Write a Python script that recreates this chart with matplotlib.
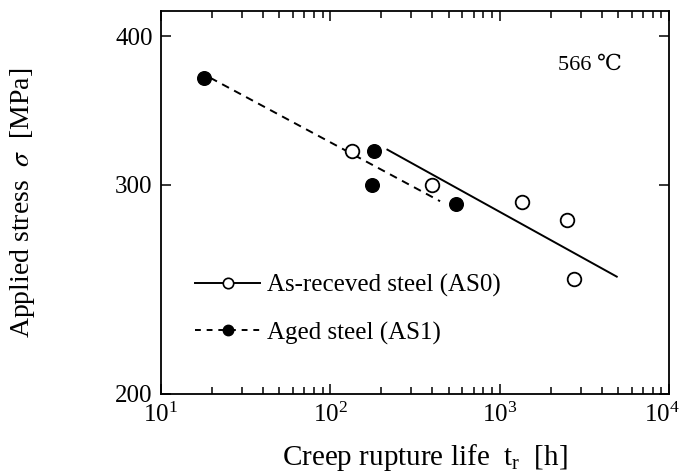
"""
566 ℃ 下 AS0 / AS1 鋼的潛變破斷壽命與外加應力 (log-log)。
"""

import matplotlib
matplotlib.use("Agg")
import matplotlib.pyplot as plt
from matplotlib.ticker import (LogLocator, NullLocator, FixedLocator, FixedFormatter,
                               LogFormatterSciNotation)
from matplotlib.transforms import ScaledTranslation

plt.rcParams['font.family'] = ['Liberation Serif', 'DejaVu Serif']
plt.rcParams['mathtext.fontset'] = 'stix'

# 原料鋼 AS0 (空心圓)
as0_life = [135, 400, 1350, 2500, 2750]
as0_stress = [320, 300, 290, 280, 250]
# 時效鋼 AS1 (實心圓)
as1_life = [18, 180, 175, 550]
as1_stress = [369, 320, 300, 289]

# 迴歸線的兩端點
as0_fit_life = [217, 4900]
as0_fit_stress = [321, 251]
as1_fit_life = [19.5, 444]
as1_fit_stress = [369, 290.5]

x_ticks = [10, 100, 1000, 10000]
y_ticks = [200, 300, 400]
y_tick_labels = ['200', '300', '400']


def main():
    fig = plt.figure(figsize=(6.85, 4.74), dpi=100)
    ax = fig.add_axes([0.235, 0.169, 0.742, 0.808])

    ax.plot(as0_fit_life, as0_fit_stress, color='black', lw=1.4)
    ax.plot(as1_fit_life, as1_fit_stress, color='black', lw=1.4, ls=(0, (4, 3)))
    ax.plot(as0_life, as0_stress, 'o', ms=9.8, mfc='white', mec='black', mew=1.3)
    ax.plot(as1_life, as1_stress, 'o', ms=9.8, mfc='black', mec='black')

    # 圖例用的代理線
    ax.plot([], [], color='black', lw=1.4, marker='o', ms=7.5, mfc='white', mew=1.2,
            label='As-receved steel (AS0)')
    ax.plot([], [], color='black', lw=1.4, ls=(0, (3, 3)), marker='o', ms=7.5, mfc='black',
            label='Aged steel (AS1)')

    ax.set_xscale('log')
    ax.set_yscale('log')
    ax.set_xlim(10, 1e4)
    ax.set_ylim(200, 420)

    ax.xaxis.set_major_locator(FixedLocator(x_ticks))
    ax.xaxis.set_major_formatter(LogFormatterSciNotation())
    ax.xaxis.set_minor_locator(LogLocator(base=10, subs=range(2, 10)))
    ax.yaxis.set_major_locator(FixedLocator(y_ticks))
    ax.yaxis.set_major_formatter(FixedFormatter(y_tick_labels))
    ax.yaxis.set_minor_locator(NullLocator())

    ax.tick_params(which='both', direction='in', top=True, right=True,
                   labelsize=18, width=1.1, pad=6)
    ax.tick_params(which='major', length=7)
    ax.tick_params(which='minor', length=5)
    for spine in ax.spines.values():
        spine.set_linewidth(1.3)

    ax.set_xlabel(r'Creep rupture life  $\mathregular{t_r}$  [h]', fontsize=21)
    ax.set_ylabel(r'Applied stress  $\sigma$  [MPa]', fontsize=20)
    ax.xaxis.set_label_coords(0.52, -0.125)
    ax.yaxis.set_label_coords(-0.244, 0.5)

    ax.text(0.781, 0.859, '566 ℃', transform=ax.transAxes, fontsize=16, va='center')

    ax.legend(loc='upper left', bbox_to_anchor=(0.067, 0.312), frameon=False,
              fontsize=18, handlelength=2.6, handletextpad=0.28, labelspacing=0.96,
              borderpad=0, borderaxespad=0)

    # 10^4 標籤稍微往左, 免得被右邊切掉
    fig.canvas.draw()
    last = ax.xaxis.get_major_ticks()[3].label1
    last.set_transform(last.get_transform() + ScaledTranslation(-5 / 72, 0, fig.dpi_scale_trans))

    fig.savefig('out.png', dpi=100, facecolor='white')


if __name__ == "__main__":
    main()
